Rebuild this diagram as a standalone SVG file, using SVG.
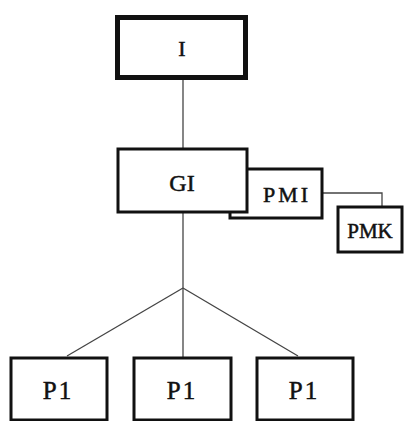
<svg xmlns="http://www.w3.org/2000/svg" width="411" height="421" viewBox="0 0 411 421">
<style>
.box{fill:#fff;stroke:#111;stroke-width:3}
.t{font-family:"Liberation Serif",serif;fill:#111;stroke:#111;stroke-width:0.5;text-anchor:middle}
.ln{stroke:#444;stroke-width:1.3;fill:none}
</style>
<rect width="411" height="421" fill="#fff"/>
<g id="connectors">
<line class="ln" x1="183" y1="80" x2="183" y2="148"/>
<line class="ln" x1="183" y1="213" x2="183" y2="288"/>
<line class="ln" x1="183" y1="288" x2="67" y2="356"/>
<line class="ln" x1="183" y1="288" x2="183" y2="357"/>
<line class="ln" x1="183" y1="288" x2="298" y2="356"/>
<polyline class="ln" points="323,193 382,193 382,206"/>
</g>
<g id="node-I">
<rect x="117.5" y="17.5" width="128" height="60" fill="#fff" stroke="#111" stroke-width="5"/>
<text class="t" x="182" y="56" font-size="22">I</text>
</g>
<g id="node-PMI">
<rect class="box" x="230" y="169" width="92" height="49"/>
<text class="t" x="287" y="202" font-size="22" letter-spacing="3">PMI</text>
</g>
<g id="node-GI">
<rect class="box" x="118" y="149" width="129" height="63"/>
<text class="t" x="182" y="191" font-size="24">GI</text>
</g>
<g id="node-PMK">
<rect class="box" x="338" y="207" width="64" height="45"/>
<text class="t" x="370" y="238" font-size="21">PMK</text>
</g>
<g id="node-P1a">
<rect class="box" x="11" y="358" width="96" height="62"/>
<text class="t" x="58" y="399" font-size="25" letter-spacing="2">P1</text>
</g>
<g id="node-P1b">
<rect class="box" x="134" y="358" width="97" height="62"/>
<text class="t" x="182" y="399" font-size="25" letter-spacing="2">P1</text>
</g>
<g id="node-P1c">
<rect class="box" x="257" y="358" width="96" height="62"/>
<text class="t" x="304" y="399" font-size="25" letter-spacing="2">P1</text>
</g>
</svg>
